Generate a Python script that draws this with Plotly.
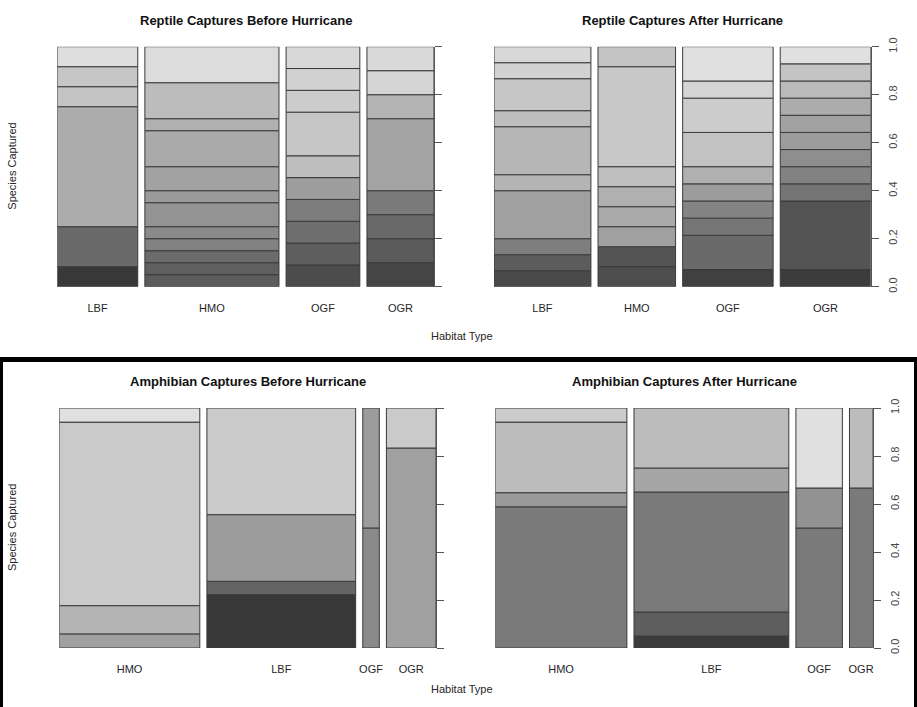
import plotly.graph_objects as go

W, H = 917, 707

# ---------------- data (counts per species, bottom -> top) ----------------
reptile_cats = ["LBF", "HMO", "OGF", "OGR"]
reptile_before_counts = [
    [1, 2, 6, 1, 1, 1],
    [1, 1, 1, 1, 1, 2, 1, 2, 3, 1, 3, 3],
    [1, 1, 1, 1, 1, 1, 2, 1, 1, 1],
    [1, 1, 1, 1, 3, 1, 1, 1],
]
reptile_after_counts = [
    [1, 1, 1, 3, 1, 3, 1, 2, 1, 1],
    [1, 1, 1, 1, 1, 1, 5, 1],
    [1, 2, 1, 1, 1, 1, 2, 2, 1, 2],
    [1, 4, 1, 1, 1, 1, 1, 1, 1, 1, 1],
]
amphibian_cats = ["HMO", "LBF", "OGF", "OGR"]
amphibian_before_counts = [
    [1, 2, 13, 1],
    [4, 1, 5, 8],
    [1, 1],
    [5, 1],
]
amphibian_after_counts = [
    [10, 1, 5, 1],
    [1, 2, 10, 2, 5],
    [3, 1, 2],
    [2, 1],
]
y_ticks = [0.0, 0.2, 0.4, 0.6, 0.8, 1.0]
y_tick_text = ["0.0", "0.2", "0.4", "0.6", "0.8", "1.0"]

# ---------------- styles (gray level of each segment) ----------------
reptile_before_grays = [
    [56, 106, 172, 196, 198, 222],
    [92, 95, 107, 130, 138, 147, 154, 162, 170, 176, 188, 220],
    [76, 94, 110, 124, 158, 190, 198, 204, 210, 216],
    [70, 90, 106, 122, 164, 180, 212, 218],
]
reptile_after_grays = [
    [74, 92, 126, 160, 180, 182, 190, 198, 210, 216],
    [78, 84, 160, 170, 176, 192, 200, 196],
    [64, 106, 118, 132, 156, 176, 194, 204, 212, 224],
    [60, 84, 116, 130, 142, 156, 162, 172, 186, 196, 224],
]
amphibian_before_grays = [
    [160, 180, 202, 224],
    [56, 100, 156, 202],
    [138, 156],
    [160, 202],
]
amphibian_after_grays = [
    [122, 154, 188, 204],
    [60, 94, 122, 166, 188],
    [122, 146, 224],
    [122, 188],
]

GAP = 0.02
FONT = "Liberation Sans, Arial, sans-serif"
TXT = "#262626"


def gray(v):
    return f"rgb({v},{v},{v})"


panels = [
    dict(title="Reptile Captures Before Hurricane", cats=reptile_cats,
         counts=reptile_before_counts, grays=reptile_before_grays,
         xd=(57.3, 434.0), yd=(46.7, 286.7), labels=False),
    dict(title="Reptile Captures After Hurricane", cats=reptile_cats,
         counts=reptile_after_counts, grays=reptile_after_grays,
         xd=(494.0, 870.7), yd=(46.7, 286.7), labels=True),
    dict(title="Amphibian Captures Before Hurricane", cats=amphibian_cats,
         counts=amphibian_before_counts, grays=amphibian_before_grays,
         xd=(59.3, 436.0), yd=(408.0, 648.0), labels=False),
    dict(title="Amphibian Captures After Hurricane", cats=amphibian_cats,
         counts=amphibian_after_counts, grays=amphibian_after_grays,
         xd=(495.3, 872.7), yd=(408.0, 648.0), labels=True),
]

fig = go.Figure()
layout = dict(
    width=W, height=H, margin=dict(l=0, r=0, t=0, b=0),
    paper_bgcolor="white", plot_bgcolor="white",
    barmode="overlay", showlegend=False,
    font=dict(family=FONT, size=11, color=TXT),
)
annotations = []

for i, p in enumerate(panels, start=1):
    totals = [sum(c) for c in p["counts"]]
    grand = sum(totals)
    xs, ws, bases, hs, cols = [], [], [], [], []
    centers = []
    left = 0.0
    for counts, grays_, tot in zip(p["counts"], p["grays"], totals):
        w = tot / grand
        cx = left + w / 2
        centers.append(cx)
        cum = 0
        for c, g in zip(counts, grays_):
            xs.append(cx)
            ws.append(w)
            bases.append(cum / tot)
            hs.append(c / tot)
            cols.append(gray(g))
            cum += c
        left += w + GAP
    xname = "x" if i == 1 else f"x{i}"
    yname = "y" if i == 1 else f"y{i}"
    fig.add_trace(go.Bar(
        x=xs, y=hs, base=bases, width=ws,
        marker=dict(color=cols, line=dict(color="#3a3a3a", width=1)),
        xaxis=xname, yaxis=yname, hoverinfo="skip", showlegend=False,
    ))
    xk = "xaxis" if i == 1 else f"xaxis{i}"
    yk = "yaxis" if i == 1 else f"yaxis{i}"
    layout[xk] = dict(
        domain=[p["xd"][0] / W, p["xd"][1] / W], anchor=yname,
        range=[0, 1 + GAP * (len(totals) - 1)],
        tickvals=centers, ticktext=p["cats"], ticks="",
        showgrid=False, zeroline=False, showline=False,
        tickfont=dict(family=FONT, size=11, color=TXT),
        ticklabelstandoff=13, automargin=False, fixedrange=True,
    )
    layout[yk] = dict(
        domain=[1 - p["yd"][1] / H, 1 - p["yd"][0] / H], anchor=xname,
        side="right", range=[0, 1],
        tickvals=y_ticks, ticktext=y_tick_text,
        ticks="outside", ticklen=7, tickcolor="#555", tickwidth=1,
        showline=True, linecolor="#555", linewidth=1,
        showgrid=False, zeroline=False,
        showticklabels=p["labels"], tickangle=-90,
        tickfont=dict(family=FONT, size=11, color="#444"),
        ticklabelstandoff=5, automargin=False, fixedrange=True,
    )
    cx_title = (p["xd"][0] + p["xd"][1]) / 2
    annotations.append(dict(
        text=f"<b>{p['title']}</b>", x=cx_title / W, y=1 - (p["yd"][0] - 26.5) / H,
        xref="paper", yref="paper", showarrow=False,
        xanchor="center", yanchor="middle",
        font=dict(family=FONT, size=13, color="#111"),
    ))

# shared axis titles for each row
for ytop, ybot, hab_y in [(46.7, 286.7, 336), (408.0, 648.0, 689)]:
    annotations.append(dict(
        text="Species Captured", x=12 / W, y=1 - (ytop + ybot) / 2 / H,
        xref="paper", yref="paper", showarrow=False, textangle=-90,
        xanchor="center", yanchor="middle",
        font=dict(family=FONT, size=11, color=TXT),
    ))
    annotations.append(dict(
        text="Habitat Type", x=462 / W, y=1 - hab_y / H,
        xref="paper", yref="paper", showarrow=False,
        xanchor="center", yanchor="middle",
        font=dict(family=FONT, size=11, color=TXT),
    ))

layout["annotations"] = annotations
layout["shapes"] = [
    dict(type="rect", xref="paper", yref="paper", x0=0, x1=1,
         y0=1 - 362 / H, y1=1 - 357 / H, fillcolor="black", line=dict(width=0)),
    dict(type="rect", xref="paper", yref="paper", x0=0, x1=3 / W,
         y0=0, y1=1 - 357 / H, fillcolor="black", line=dict(width=0)),
    dict(type="rect", xref="paper", yref="paper", x0=1 - 3 / W, x1=1,
         y0=0, y1=1 - 357 / H, fillcolor="black", line=dict(width=0)),
]
fig.update_layout(**layout)
fig.write_html(
    "out.html",
    config={"displayModeBar": False, "staticPlot": True},
    post_script="document.body.style.margin='0';document.body.style.padding='0';"
                "document.documentElement.style.overflow='hidden';",
)
